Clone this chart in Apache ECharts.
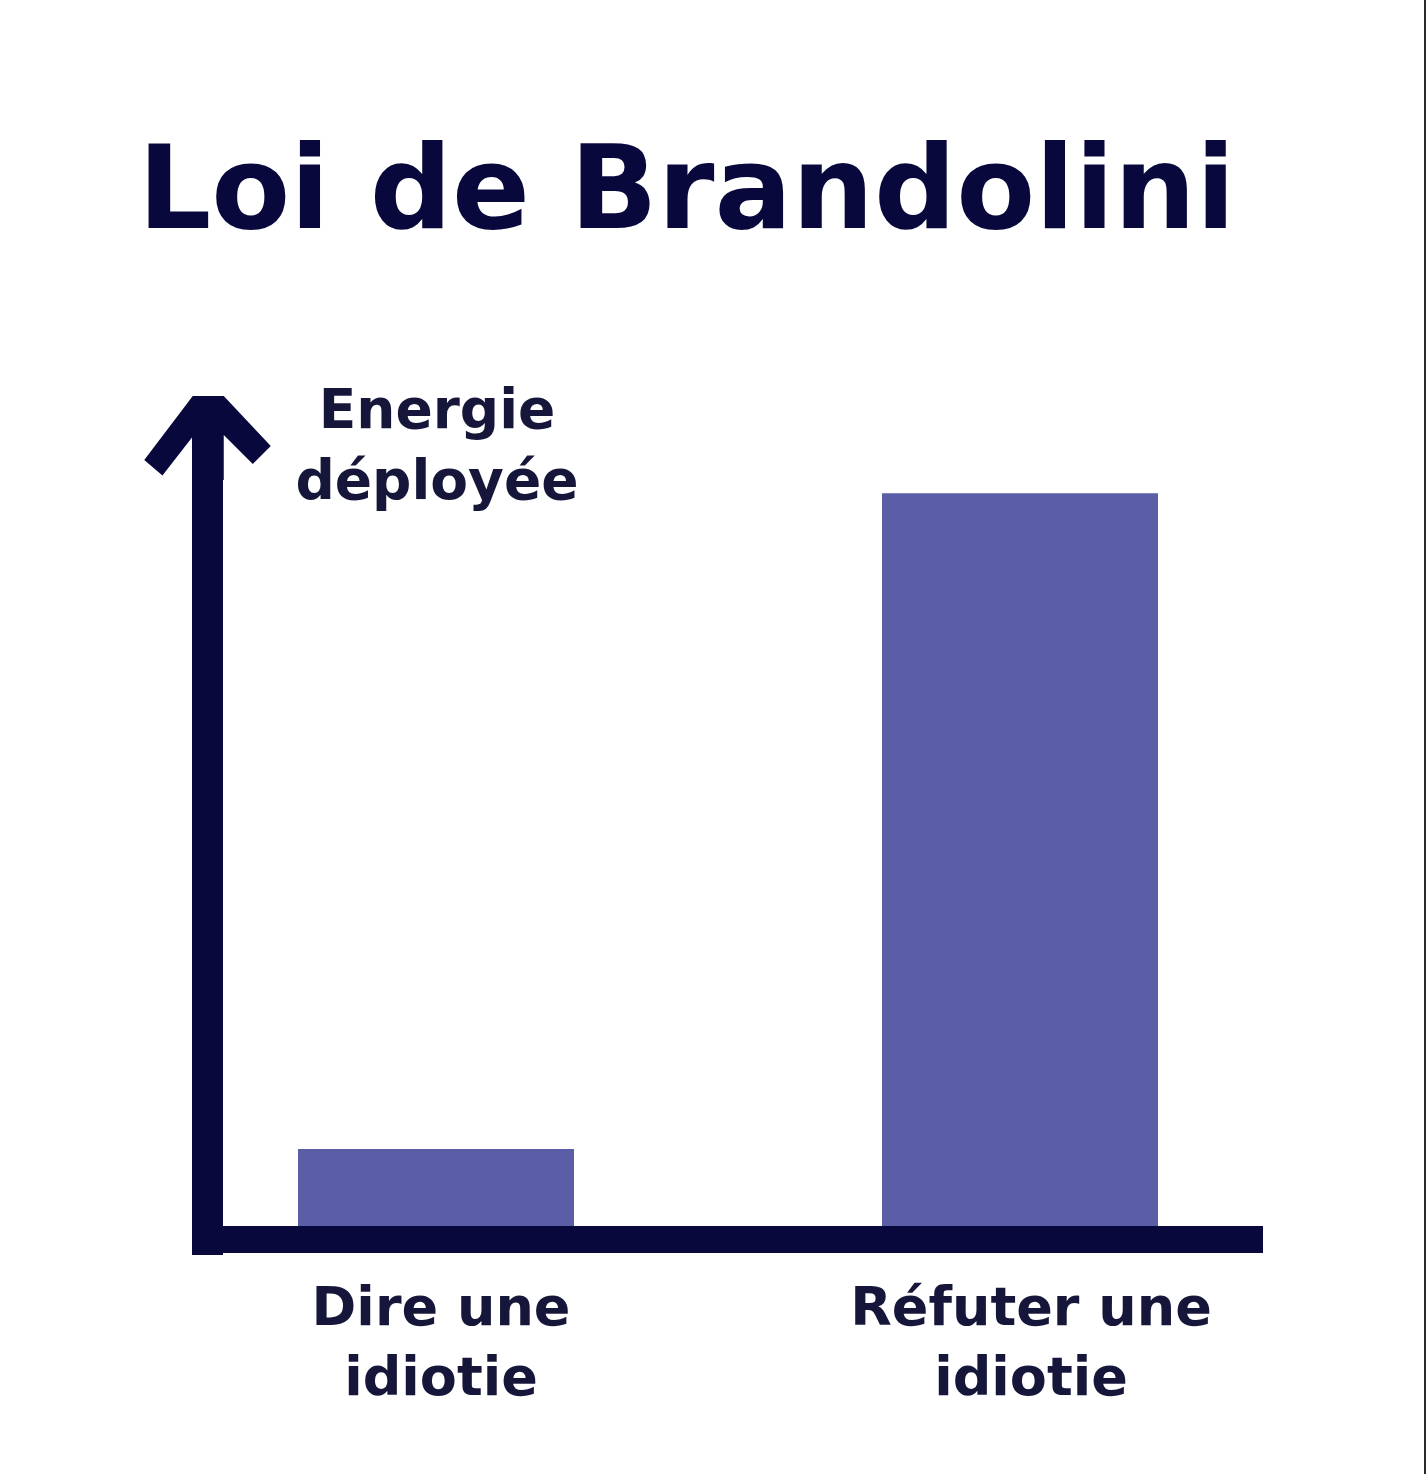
<!DOCTYPE html>
<html>
<head>
<meta charset="utf-8">
<script src="https://cdn.jsdelivr.net/npm/echarts@6/dist/echarts.min.js"></script>
<style>
html,body{margin:0;padding:0;background:#fff;}
#chart{width:1426px;height:1474px;}
</style>
</head>
<body>
<div id="chart"></div>
<script>
const titleText = 'Loi de Brandolini';
const yAxisName = 'Energie\ndéployée';
const categories = ['Dire une\nidiotie', 'Réfuter une\nidiotie'];
const energyValues = [1.13, 9.31];
const yMin = 0;
const yMax = 10;

const NAVY = '#08083c';
const TEXT = '#16163a';
const BAR = '#5b5ea6';
const FONT = '"DejaVu Sans", sans-serif';

const chevron = 'path://M48.5 0 L79.5 0 L126.5 50 L108.5 68 L79.5 39 L79.5 84 L48.5 84 L48.5 40.6 L18.2 79.4 L0 64 Z';

const chart = echarts.init(document.getElementById('chart'), null, {renderer: 'canvas'});
chart.setOption({
  backgroundColor: '#ffffff',
  animation: false,
  title: {
    text: titleText,
    left: 138,
    top: 141,
    padding: 0,
    textStyle: {fontFamily: FONT, fontWeight: 'bold', fontSize: 115, color: NAVY}
  },
  graphic: [
    {
      type: 'text', x: 437, y: 378, z: 10,
      style: {text: yAxisName, fontFamily: FONT, fontWeight: 'bold', fontSize: 55,
              lineHeight: 71, fill: TEXT, align: 'center', verticalAlign: 'top'}
    },
    {
      type: 'rect', shape: {x: 1424, y: 0, width: 2, height: 1474}, style: {fill: '#2a2a2a'}
    }
  ],
  grid: [
    {left: 207.5, right: 176.5, top: 438, bottom: 234.5},
    {left: 144, width: 1168, top: 438, bottom: 234.5}
  ],
  xAxis: [
    {
      gridIndex: 0, type: 'category', data: categories, z: 3,
      axisLine: {lineStyle: {color: NAVY, width: 27, cap: 'square'}},
      axisTick: {show: false}, axisLabel: {show: false}, splitLine: {show: false}
    },
    {
      gridIndex: 1, type: 'category', data: categories.map((c, i) => ({
        value: c, textStyle: {padding: [0, 0, 0, i === 0 ? 10 : 22]}
      })),
      axisLine: {show: false}, axisTick: {show: false}, splitLine: {show: false},
      axisLabel: {show: true, margin: 36, fontFamily: FONT, fontWeight: 'bold',
                  fontSize: 54, lineHeight: 70, color: TEXT, interval: 0}
    }
  ],
  yAxis: [
    {
      gridIndex: 0, type: 'value', min: yMin, max: yMax, z: 3,
      axisLine: {show: true, symbol: ['none', chevron], symbolSize: [126.5, 84],
                 lineStyle: {color: NAVY, width: 31, cap: 'square'}},
      axisTick: {show: false}, axisLabel: {show: false}, splitLine: {show: false}
    },
    {
      gridIndex: 1, type: 'value', min: yMin, max: yMax, show: false,
      splitLine: {show: false}
    }
  ],
  series: [
    {
      type: 'bar', xAxisIndex: 1, yAxisIndex: 1, data: energyValues,
      barWidth: 276, itemStyle: {color: BAR}, z: 2
    }
  ]
});
</script>
</body>
</html>
